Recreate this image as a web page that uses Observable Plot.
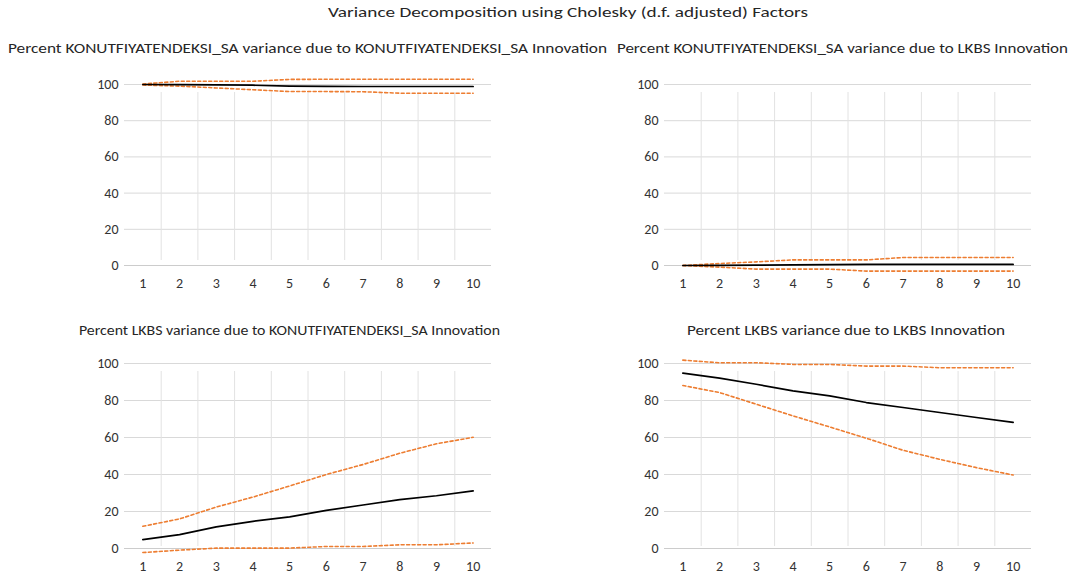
<!DOCTYPE html>
<html><head><meta charset="utf-8">
<script src="https://cdn.jsdelivr.net/npm/d3@7"></script>
<script src="https://cdn.jsdelivr.net/npm/@observablehq/plot@0.6"></script>
<style>
body{margin:0;background:#fff;}
#wrap{position:relative;width:1076px;height:580px;overflow:hidden;font-family:Calibri,Carlito,Lato,"Open Sans",sans-serif;}
.panel{position:absolute;}
.panel text{font-size:14px !important;fill:#333333;}
#titles{position:absolute;left:0;top:0;pointer-events:none;}
</style></head><body><div id="wrap"></div>
<script>
const mainTitle = "Variance Decomposition using Cholesky (d.f. adjusted) Factors";
const panelTitles = [
  "Percent KONUTFIYATENDEKSI_SA variance due to KONUTFIYATENDEKSI_SA Innovation",
  "Percent KONUTFIYATENDEKSI_SA variance due to LKBS Innovation",
  "Percent LKBS variance due to KONUTFIYATENDEKSI_SA Innovation",
  "Percent LKBS variance due to LKBS Innovation"
];
const periods = [1,2,3,4,5,6,7,8,9,10];
const yTicks = [0,20,40,60,80,100];

// Panel 1: KONUT due to KONUT
const p1Mean  = [100.0, 99.9, 99.8, 99.6, 99.1, 99.0, 98.9, 98.9, 98.9, 98.9];
const p1Upper = [100.3, 101.8, 101.8, 101.8, 102.8, 102.9, 102.9, 102.9, 102.9, 102.9];
const p1Lower = [99.7, 99.1, 98.1, 97.1, 96.1, 96.1, 96.0, 95.2, 95.2, 95.2];
// Panel 2: KONUT due to LKBS
const p2Mean  = [0.0, 0.1, 0.2, 0.3, 0.5, 0.6, 0.6, 0.6, 0.6, 0.6];
const p2Upper = [0.0, 1.1, 2.0, 3.1, 3.1, 3.1, 4.4, 4.4, 4.4, 4.4];
const p2Lower = [0.0, -0.9, -2.0, -2.0, -2.0, -3.1, -3.1, -3.1, -3.1, -3.1];
// Panel 3: LKBS due to KONUT
const p3Mean  = [4.8, 7.5, 11.7, 14.7, 17.1, 20.6, 23.5, 26.4, 28.5, 31.1];
const p3Upper = [12.0, 16.0, 22.4, 27.8, 33.8, 40.0, 45.4, 51.5, 56.6, 60.1];
const p3Lower = [-2.2, -0.9, 0.2, 0.2, 0.2, 1.1, 1.1, 2.0, 2.0, 3.0];
// Panel 4: LKBS due to LKBS
const p4Mean  = [94.8, 92.1, 88.8, 85.2, 82.5, 78.9, 76.2, 73.5, 70.8, 68.2];
const p4Upper = [101.8, 100.4, 100.4, 99.5, 99.5, 98.6, 98.6, 97.7, 97.7, 97.7];
const p4Lower = [88.1, 84.3, 78.0, 71.7, 65.7, 59.6, 53.1, 48.2, 43.7, 39.7];

const FONT = 'Calibri, Carlito, Lato, "Open Sans", sans-serif';
const ORANGE = "#ED7D31";

function panel(mean, upper, lower, g) {
  const rows = periods.map((p, i) => ({p, mean: mean[i], upper: upper[i], lower: lower[i]}));
  const bounds = periods.slice(1).map(p => p - 0.5);
  const chart = Plot.plot({
    width: g.width, height: g.height,
    marginTop: g.mT, marginBottom: g.mB, marginLeft: g.mL, marginRight: g.mR,
    style: {fontFamily: FONT, fontSize: "14px", color: "#333333", background: "transparent", overflow: "visible"},
    x: {domain: [periods[0] - 0.5, periods[periods.length - 1] + 0.5], ticks: periods, tickFormat: d => String(d), label: null, tickSize: 0, tickPadding: 13},
    y: {domain: [0, 100], ticks: yTicks, label: null, tickSize: 0, tickPadding: 6},
    marks: [
      Plot.ruleY(yTicks.filter(d => d > 0), {stroke: "#d9d9d9", strokeWidth: 1}),
      Plot.ruleX(bounds, {y1: 0, y2: 100, insetTop: g.extTop, insetBottom: -8, stroke: "#e2e2e2", strokeWidth: 1}),
      Plot.ruleY([0], {stroke: "#cccccc", strokeWidth: 1}),
      Plot.line(rows, {x: "p", y: "upper", stroke: ORANGE, strokeWidth: 1.6, strokeDasharray: "3,2.5"}),
      Plot.line(rows, {x: "p", y: "lower", stroke: ORANGE, strokeWidth: 1.6, strokeDasharray: "3,2.5"}),
      Plot.line(rows, {x: "p", y: "mean", stroke: "#000", strokeWidth: 1.7})
    ]
  });
  chart.classList.add("panel");
  chart.style.left = g.left + "px";
  chart.style.top = g.top + "px";
  return chart;
}

const wrap = document.getElementById("wrap");
const topG = {width: 538, height: 250, top: 60, mT: 24, mB: 45, extTop: -5};
const botG = {width: 538, height: 240, top: 340, mT: 23, mB: 32, extTop: -2};
const leftG = {left: 0, mL: 124, mR: 47};
const rightG = {left: 538, mL: 126, mR: 45};
wrap.appendChild(panel(p1Mean, p1Upper, p1Lower, {...topG, ...leftG}));
wrap.appendChild(panel(p2Mean, p2Upper, p2Lower, {...topG, ...rightG}));
wrap.appendChild(panel(p3Mean, p3Upper, p3Lower, {...botG, ...leftG}));
wrap.appendChild(panel(p4Mean, p4Upper, p4Lower, {...botG, ...rightG}));

// titles
const titleSpecs = [
  {text: mainTitle, x: 568, y: 17, len: 480, size: 15, anchor: "middle"},
  {text: panelTitles[0], x: 8, y: 53, len: 599, size: 13.5, anchor: "start"},
  {text: panelTitles[1], x: 617, y: 53, len: 451, size: 13.5, anchor: "start"},
  {text: panelTitles[2], x: 79, y: 335, len: 421, size: 13.5, anchor: "start"},
  {text: panelTitles[3], x: 687, y: 335, len: 318, size: 13.5, anchor: "start"}
];
const svg = d3.select(wrap).append("svg").attr("id", "titles").attr("width", 1076).attr("height", 580);
svg.selectAll("text").data(titleSpecs).join("text")
  .attr("x", d => d.x).attr("y", d => d.y)
  .attr("text-anchor", d => d.anchor)
  .attr("textLength", d => d.len).attr("lengthAdjust", "spacingAndGlyphs")
  .attr("font-family", FONT).attr("font-size", d => d.size).attr("fill", "#262626")
  .text(d => d.text);
</script>
</body></html>
